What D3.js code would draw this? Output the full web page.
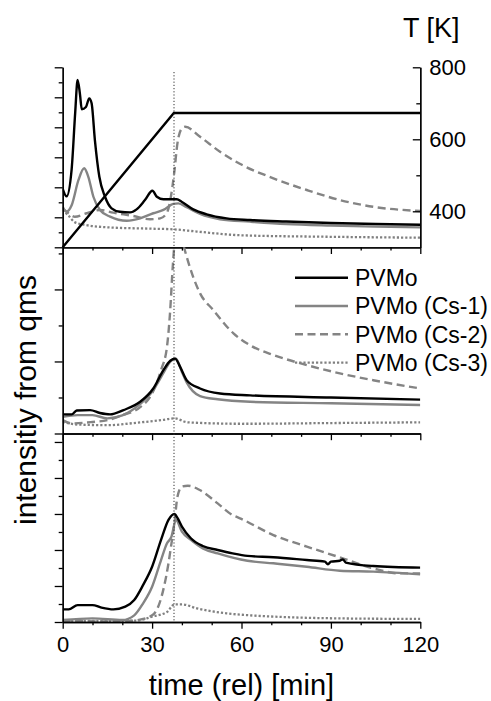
<!DOCTYPE html>
<html>
<head>
<meta charset="UTF-8">
<title>qms</title>
<style>
  *{margin:0;padding:0;}
  body{background:#fff;}
  svg{display:block;}
  text{font-family:"Liberation Sans", Arial, sans-serif;}
</style>
</head>
<body>
<div id="chart"></div>
<script src="https://cdn.jsdelivr.net/npm/d3@7/dist/d3.min.js"></script>
<script>
// series names (legend)
var seriesNames = ["PVMo", "PVMo (Cs-1)", "PVMo (Cs-2)", "PVMo (Cs-3)"];
var xTicks = [0, 30, 60, 90, 120];
var tTicks = [400, 600, 800];
var markerTime = 37.35;

// temperature program [t, K]
var tempRamp = [[0,300],[37.3,673],[120,673]];

// panel 1 (arbitrary units) [t, value]
var p1_PVMo = [[0,3.9],[1.3,3.4],[3,5.2],[4.2,9],[5,11.15],[5.8,10.2],[6.4,9.2],[7.8,9.35],[8.9,9.93],[9.7,9.6],[10.8,7.15],[12.3,4.7],[14.2,3.37],[16.4,2.6],[19.2,2.37],[22.6,2.33],[24.8,2.53],[27.6,3.15],[30.1,3.77],[31.6,3.37],[33.8,3.2],[36,3.2],[38.3,3.2],[39.9,3.04],[43.8,2.53],[48.3,2.2],[55,1.93],[62.9,1.82],[75,1.72],[90,1.62],[105,1.55],[120,1.5]];
var p1_Cs1 = [[0,2.7],[1.3,2.37],[3,2.8],[5.3,4.49],[7.2,5.27],[8.6,4.7],[10.3,3.37],[12.5,2.49],[15.9,2.04],[21.5,1.77],[26,1.93],[30.4,2.27],[33.8,2.49],[37.1,2.89],[38.8,2.93],[41.6,2.67],[46.1,2.22],[52.8,1.87],[62.9,1.71],[75,1.55],[90,1.45],[105,1.38],[120,1.33]];
var p1_Cs2 = [[0,2.6],[1.9,2.27],[4.1,2.04],[8.1,2.27],[12.5,2.49],[17,2.31],[23.7,2.09],[29.3,1.87],[32.7,1.93],[34.9,2.27],[36.3,3.37],[37.4,4.93],[38.5,6.93],[40,7.93],[41.1,8.04],[46.1,7.37],[52.8,6.37],[59.6,5.55],[70.7,4.6],[81.9,3.82],[93,3.15],[104.2,2.7],[120,2.42]];
var p1_Cs3 = [[0,2.5],[2,2.1],[4,1.68],[8,1.48],[15,1.33],[30,1.24],[37,1.2],[45,1.05],[60,0.8],[90,0.7],[120,0.64]];

// panel 2
var p2_PVMo = [[0,0.53],[3,0.53],[4.7,0.64],[9.2,0.65],[12.5,0.57],[15.9,0.53],[20.4,0.65],[26,0.88],[30.4,1.25],[33.8,1.76],[36.1,2.02],[37.7,2.08],[39.4,1.85],[41.6,1.48],[46.1,1.25],[52.8,1.11],[62.9,1.06],[90,1.0],[120,0.94]];
var p2_Cs1 = [[0,0.46],[5,0.51],[10,0.51],[15,0.42],[20,0.5],[26,0.82],[30,1.16],[34,1.71],[36,1.99],[38,2.08],[40,1.71],[41.6,1.42],[46.1,1.04],[52,0.95],[62.9,0.88],[90,0.84],[120,0.79]];
var p2_Cs2 = [[0,0.37],[3,0.28],[10,0.32],[15,0.37],[20,0.51],[26,0.73],[30,1.11],[33,1.76],[35,2.41],[36,3.33],[37,4.72],[38,5.6],[39.2,5.7],[40.3,5.3],[41.6,4.91],[46.1,3.89],[50.5,3.43],[57.3,2.78],[62.9,2.45],[70.7,2.18],[81.9,1.9],[93,1.67],[104.2,1.48],[120,1.25]];
var p2_Cs3 = [[0,0.32],[5,0.25],[15,0.23],[25,0.3],[33,0.37],[37.5,0.42],[42,0.31],[60,0.27],[90,0.29],[120,0.31]];

// panel 3
var p3_PVMo = [[0,0.7],[2,0.7],[5,0.94],[10,0.94],[13,0.8],[17,0.7],[21,0.85],[24,1.22],[27,2.06],[30,3.07],[33,4.56],[35.5,5.67],[37.5,6.0],[38.5,5.78],[40,5.3],[43,4.65],[47,4.22],[52,4.0],[57,3.81],[62,3.67],[70.7,3.6],[81.9,3.44],[88,3.35],[89,3.2],[90,3.35],[93,3.4],[94,3.48],[95,3.3],[104.2,3.11],[120,3.02]];
var p3_Cs1 = [[0,0.11],[10,0.2],[20,0.11],[24,0.37],[27,1.04],[30,1.96],[33,3.44],[35,4.37],[36.5,4.74],[38,5.67],[40,5.02],[43,4.56],[47,4.09],[52,3.81],[62,3.4],[70.7,3.26],[81.9,3.07],[93,2.85],[104.2,2.8],[120,2.65]];
var p3_Cs2 = [[0,0.05],[20,0.03],[25,0.1],[30,0.37],[32,0.83],[34,1.96],[35.5,3.26],[36.5,4.37],[37.5,5.48],[38.5,6.96],[40,7.52],[42,7.57],[46,7.33],[52,6.59],[57,5.94],[59.5,5.76],[70.7,4.83],[81.9,4.19],[93,3.59],[104.2,2.98],[113,2.7],[120,2.7]];
var p3_Cs3 = [[0,0.05],[25,0.08],[30,0.3],[35,0.56],[37.5,0.98],[40,0.98],[45,0.76],[55,0.48],[62,0.38],[70.7,0.3],[93,0.2],[120,0.17]];

var width = 491, height = 701;
var left = 62.7, right = 420.3;

var styles = [
  {color:"#000", dash:null, w:2.4},
  {color:"#848484", dash:null, w:2.4},
  {color:"#848484", dash:"8,4.5", w:2.4},
  {color:"#808080", dash:"2.2,2", w:2.3}
];

var panels = [
  {top:67.3, bottom:247.3, max:12, series:[p1_PVMo,p1_Cs1,p1_Cs2,p1_Cs3]},
  {top:247.3, bottom:433.5, max:5.17, series:[p2_PVMo,p2_Cs1,p2_Cs2,p2_Cs3]},
  {top:433.5, bottom:622, max:10.47, series:[p3_PVMo,p3_Cs1,p3_Cs2,p3_Cs3]}
];

var svg = d3.select("#chart").append("svg")
  .attr("width", width).attr("height", height);

var x = d3.scaleLinear().domain([0,120]).range([left,right]);

panels.forEach(function(p, i){
  var y = d3.scaleLinear().domain([0,p.max]).range([p.bottom,p.top]);
  var clipId = "clip" + i;
  svg.append("clipPath").attr("id", clipId).append("rect")
    .attr("x", left).attr("y", p.top).attr("width", right-left).attr("height", p.bottom-p.top);

  var line = d3.line().x(function(d){return x(d[0]);}).y(function(d){return y(d[1]);})
    .curve(d3.curveMonotoneX);

  var g = svg.append("g").attr("clip-path", "url(#" + clipId + ")");
  // back to front: Cs-3, Cs-2, Cs-1, PVMo
  [3,2,1,0].forEach(function(k){
    g.append("path").datum(p.series[k])
      .attr("d", line)
      .attr("fill","none")
      .attr("stroke", styles[k].color)
      .attr("stroke-width", styles[k].w)
      .attr("stroke-dasharray", styles[k].dash)
      .attr("stroke-linejoin","round");
  });

  // left axis: major and minor ticks, no labels
  var minor = d3.range(1, p.max, 2);
  var major = d3.range(0, p.max + 0.01, 2);
  svg.append("g").attr("class","axis")
    .attr("transform","translate(" + left + ",0)")
    .call(d3.axisLeft(y).tickValues(minor).tickSize(4).tickSizeOuter(0).tickFormat(""));
  svg.append("g").attr("class","axis")
    .attr("transform","translate(" + left + ",0)")
    .call(d3.axisLeft(y).tickValues(major).tickSize(8).tickSizeOuter(0).tickFormat(""));

  // bottom axis of each panel
  var xMinor = d3.range(10,120,10).filter(function(v){return v % 30 !== 0;});
  svg.append("g").attr("class","axis")
    .attr("transform","translate(0," + p.bottom + ")")
    .call(d3.axisBottom(x).tickValues(xMinor).tickSize(3.3).tickSizeOuter(0).tickFormat(""));
  var ax = d3.axisBottom(x).tickValues(xTicks).tickSize(6.7).tickSizeOuter(0).tickPadding(8);
  if (i < 2) ax.tickFormat("");
  svg.append("g").attr("class","axis")
    .attr("transform","translate(0," + p.bottom + ")")
    .call(ax);
});

// temperature (right axis, top panel)
var p1 = panels[0];
var yT = d3.scaleLinear().domain([300,800]).range([p1.bottom, p1.top]);
svg.append("g").attr("class","axis")
  .attr("transform","translate(" + right + ",0)")
  .call(d3.axisRight(yT).tickValues([500,700]).tickSize(-4).tickSizeOuter(0).tickFormat(""));
svg.append("g").attr("class","axis")
  .attr("transform","translate(" + right + ",0)")
  .call(d3.axisRight(yT).tickValues(tTicks).tickSize(-7.5).tickSizeOuter(0).tickPadding(9));

svg.append("path").datum(tempRamp)
  .attr("d", d3.line().x(function(d){return x(d[0]);}).y(function(d){return yT(d[1]);}))
  .attr("fill","none").attr("stroke","#000").attr("stroke-width",2.4);

// marker line
svg.append("line")
  .attr("x1", x(markerTime)).attr("x2", x(markerTime))
  .attr("y1", 72).attr("y2", panels[2].bottom)
  .attr("stroke","#333").attr("stroke-width",1).attr("stroke-dasharray","1.2,2");

svg.selectAll(".axis path, .axis line").attr("stroke","#000").attr("stroke-width",1.3);
svg.selectAll(".axis text").attr("fill","#000").style("font-size","22px")
  .style("font-family","'Liberation Sans', Arial, sans-serif");

// titles
svg.append("text").attr("x", 403).attr("y", 37).text("T [K]")
  .style("font-size","27px");
svg.append("text").attr("x", (left+right)/2).attr("y", 695)
  .attr("text-anchor","middle").text("time (rel) [min]")
  .style("font-size","29px");
svg.append("text")
  .attr("transform","translate(36,400) rotate(-90)")
  .attr("text-anchor","middle").text("intensitiy from qms")
  .style("font-size","30px");

// legend
var legY = [277.7, 306, 334.3, 362.7];
var leg = svg.append("g");
seriesNames.forEach(function(name, k){
  leg.append("line")
    .attr("x1",295).attr("x2",348).attr("y1",legY[k]).attr("y2",legY[k])
    .attr("stroke",styles[k].color).attr("stroke-width",styles[k].w)
    .attr("stroke-dasharray",styles[k].dash);
  leg.append("text").attr("x",355).attr("y",legY[k]+8.3).text(name)
    .style("font-size","23px");
});
</script>
</body>
</html>
